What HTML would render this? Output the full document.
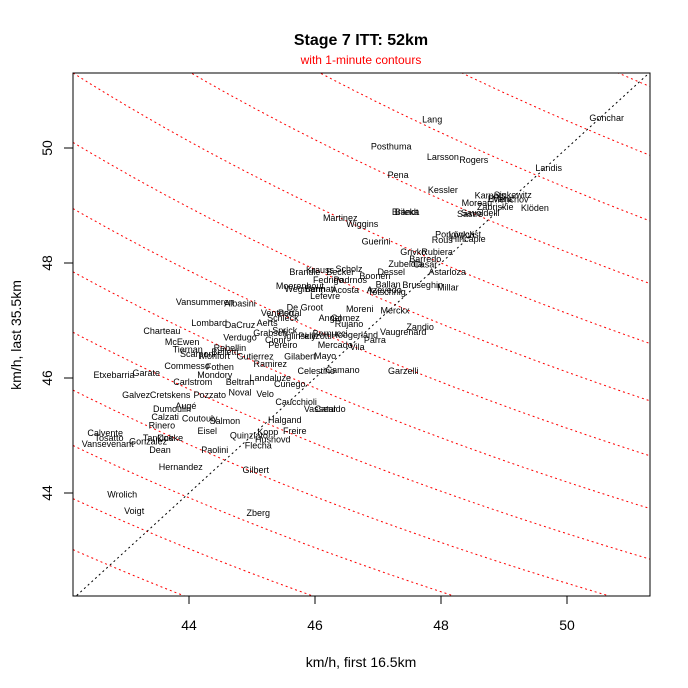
<!DOCTYPE html>
<html><head><meta charset="utf-8">
<style>
html,body{margin:0;padding:0;background:#fff;width:688px;height:688px;overflow:hidden;}
svg{display:block;font-family:"Liberation Sans",Arial,sans-serif;}
</style></head>
<body>
<svg id="chart" width="688" height="688" viewBox="0 0 688 688" xmlns="http://www.w3.org/2000/svg">
<defs><clipPath id="plotclip"><rect x="73" y="73" width="577" height="523"/></clipPath></defs>
<text x="361" y="45" text-anchor="middle" font-size="16" font-weight="bold">Stage 7 ITT: 52km</text>
<text x="361" y="64" text-anchor="middle" font-size="12" fill="#ff0000">with 1-minute contours</text>
<text x="361" y="667" text-anchor="middle" font-size="14">km/h, first 16.5km</text>
<text x="21" y="335" text-anchor="middle" font-size="14" transform="rotate(-90 21 335)">km/h, last 35.5km</text>
<g id="contours" clip-path="url(#plotclip)"></g>
<g id="labels"></g>
<g id="axes"></g>
<rect x="73" y="73" width="577" height="523" fill="none" stroke="#000" stroke-width="1"/>
</svg>
<script>
const names = ["Gonchar","Lang","Posthuma","Larsson","Rogers","Landis","Pena","Kessler","Karpets","Sinkewitz","Evans","Menchov","Moreau","Zabriskie","Klöden","Savoldelli","Sastre","Brandt","Bileka","Martinez","Wiggins","Guerini","Rous","Popovych","Lövkvist","Hincapie","Grivko","Rubiera","Barredo","Zubeldia","Casar","Dessel","Astarloza","Boonen","Scholz","Krauss","Becker","Brandle","Fedrigo","Padrnos","Ballan","Bruseghin","Millar","Azevedo","Totschnig","Moerenhout","Wegmann","Bennati","Acosta","Lefevre","Vansummeren","Albasini","De Groot","Ventoso","Schleck","Portal","Moreni","Merckx","Lombard","DaCruz","Aerts","Angel","Gomez","Rujano","Zandio","Vaugrenard","Charteau","Sprick","Verdugo","Grabsch","Parra","Pellizotti","Bernucci","Hoogerland","Cioni","McEwen","Iglinskiy","Rebellin","Pereiro","Mercado","Vila","Scarponi","Tiernan","Monfort","Belletti","Gutierrez","Gilabert","Mayo","Commesso","Fothen","Ramirez","Celestino","Camano","Cunego","Landaluze","Carlstrom","Mondory","Beltran","Pozzato","Noval","Velo","Galvez","Cretskens","Etxebarria","Garate","Caucchioli","Vasseur","Cataldo","Augé","Dumoulin","Calzati","Coutouly","Salmon","Rinero","Eisel","Halgand","Kopp","Freire","Quinziato","Hushovd","Flecha","Calvente","Tosatto","Vansevenant","Tankink","Cooke","Gonzalez","Dean","Paolini","Hernandez","Gilbert","Wrolich","Voigt","Zberg","Garzelli"];
const speedFirst = [50.63,47.86,47.21,48.03,48.52,49.71,47.32,48.03,48.78,49.14,48.94,49.10,48.57,48.86,49.49,48.62,48.46,47.43,47.46,46.40,46.75,46.97,48.02,48.22,48.38,48.43,47.56,47.94,47.75,47.44,47.75,47.21,48.10,46.95,46.54,46.08,46.40,45.84,46.21,46.56,47.16,47.71,48.11,47.10,47.14,45.76,45.84,46.08,46.48,46.16,44.25,44.81,45.84,45.40,45.49,45.60,46.71,47.27,44.32,44.81,45.24,46.24,46.48,46.54,47.67,47.40,43.57,45.52,44.81,45.29,46.95,46.00,46.24,46.63,45.37,43.89,45.76,44.65,45.49,46.32,46.67,44.14,43.98,44.41,44.57,45.05,45.76,46.16,43.97,44.49,45.29,46.02,46.44,45.60,45.29,44.06,44.41,44.81,44.33,44.81,45.21,43.16,43.70,42.81,43.32,45.70,46.08,46.24,43.95,43.73,43.62,44.17,44.57,43.57,44.29,45.52,45.25,45.68,44.95,45.33,45.10,42.67,42.73,42.71,43.51,43.70,43.35,43.54,44.41,43.87,45.06,42.94,43.13,45.10,47.40];
const speedLast = [50.52,50.50,50.03,49.84,49.79,49.65,49.53,49.27,49.17,49.18,49.11,49.10,49.04,48.97,48.96,48.87,48.85,48.89,48.89,48.78,48.68,48.37,48.40,48.50,48.50,48.42,48.19,48.19,48.07,47.98,47.97,47.84,47.84,47.77,47.90,47.88,47.84,47.84,47.70,47.70,47.63,47.62,47.57,47.53,47.50,47.60,47.55,47.55,47.53,47.43,47.32,47.30,47.23,47.13,47.04,47.13,47.20,47.17,46.96,46.92,46.96,47.04,47.04,46.94,46.89,46.80,46.82,46.83,46.70,46.78,46.66,46.73,46.77,46.75,46.66,46.63,46.73,46.52,46.57,46.57,46.54,46.42,46.50,46.38,46.45,46.37,46.37,46.38,46.21,46.19,46.24,46.12,46.14,45.90,46.00,45.93,46.05,45.93,45.70,45.75,45.72,45.70,45.70,46.05,46.09,45.58,45.46,45.46,45.51,45.46,45.32,45.30,45.25,45.17,45.08,45.27,45.06,45.08,45.00,44.93,44.83,45.04,44.96,44.85,44.96,44.96,44.90,44.75,44.75,44.45,44.40,43.97,43.69,43.65,46.12];
const xTicks = [44,46,48,50];
const yTicks = [44,46,48,50];
const contourMinutes = [60,61,62,63,64,65,66,67,68,69,70,71,72,73,74,75];
const firstKm = 16.5, lastKm = 35.5;

const NS = "http://www.w3.org/2000/svg";
const xMin = 42.159, xMax = 51.317, yMin = 42.21, yMax = 51.30;
function sx(v){ return 189 + (v-44)*63; }
function sy(v){ return 148 - (v-50)*57.5; }

const cg = document.getElementById('contours');
contourMinutes.forEach(function(T){
  let pts = [];
  for (let i=0;i<=200;i++){
    const x = xMin + (xMax-xMin)*i/200;
    const denom = T - firstKm*60/x;
    if (denom <= 0) continue;
    const y = lastKm*60/denom;
    if (y < yMin-3 || y > yMax+3) continue;
    pts.push(sx(x).toFixed(1)+','+sy(y).toFixed(1));
  }
  if (pts.length < 2) return;
  const pl = document.createElementNS(NS,'polyline');
  
  
  pl.setAttribute('points', pts.join(' '));
  pl.setAttribute('fill','none');
  pl.setAttribute('stroke','#ff0000');
  pl.setAttribute('stroke-width','1');
  pl.setAttribute('stroke-dasharray','2,3');
  cg.appendChild(pl);
});
const diag = document.createElementNS(NS,'line');


diag.setAttribute('x1', sx(xMin)); diag.setAttribute('y1', sy(xMin));
diag.setAttribute('x2', sx(yMax)); diag.setAttribute('y2', sy(yMax));
diag.setAttribute('stroke','#000'); diag.setAttribute('stroke-width','1');
diag.setAttribute('stroke-dasharray','2,3');
cg.appendChild(diag);

const lg = document.getElementById('labels');
names.forEach(function(n,i){
  const t = document.createElementNS(NS,'text');
  
  
  t.setAttribute('x', sx(speedFirst[i]).toFixed(1));
  t.setAttribute('y', (sy(speedLast[i])+3).toFixed(1));
  t.setAttribute('text-anchor','middle');
  t.setAttribute('font-size','9');
  t.textContent = n;
  lg.appendChild(t);
});

const ag = document.getElementById('axes');
xTicks.forEach(function(v){
  const l = document.createElementNS(NS,'line');
  
  
  l.setAttribute('x1', sx(v)); l.setAttribute('x2', sx(v));
  l.setAttribute('y1', 596); l.setAttribute('y2', 604);
  l.setAttribute('stroke','#000');
  ag.appendChild(l);
  const t = document.createElementNS(NS,'text');
  
  
  t.setAttribute('x', sx(v)); t.setAttribute('y', 630);
  t.setAttribute('text-anchor','middle'); t.setAttribute('font-size','14');
  t.textContent = v;
  ag.appendChild(t);
});
yTicks.forEach(function(v){
  const l = document.createElementNS(NS,'line');
  
  
  l.setAttribute('x1', 64); l.setAttribute('x2', 73);
  l.setAttribute('y1', sy(v)); l.setAttribute('y2', sy(v));
  l.setAttribute('stroke','#000');
  ag.appendChild(l);
  const t = document.createElementNS(NS,'text');
  
  
  const yy = sy(v);
  t.setAttribute('x', 52); t.setAttribute('y', yy);
  t.setAttribute('text-anchor','middle'); t.setAttribute('font-size','14');
  t.setAttribute('transform','rotate(-90 52 '+yy+')');
  t.textContent = v;
  ag.appendChild(t);
});
</script>
</body></html>
